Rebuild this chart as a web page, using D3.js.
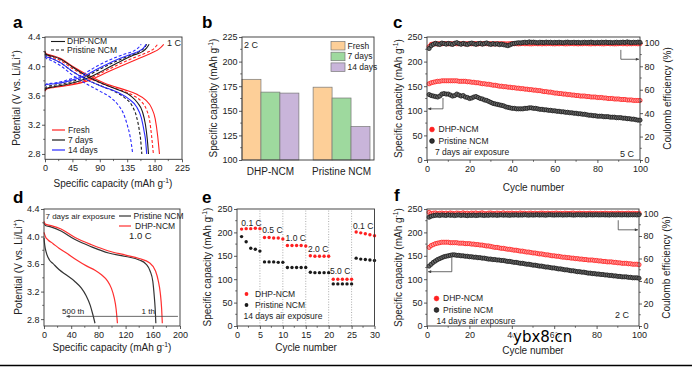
<!DOCTYPE html>
<html><head><meta charset="utf-8">
<script src="https://cdn.jsdelivr.net/npm/d3@7"></script>
<style>
body{margin:0;background:#fff;}
svg{display:block;font-family:"Liberation Sans",Arial,sans-serif;}
</style></head><body>
<svg id="chart" width="692" height="367"></svg>
<script>
// ================= DATA =================
// Panel a : charge/discharge at 1 C  [capacity, potential]
const aXTicks=[0,45,90,135,180,225];
const aYTicks=[2.8,3.2,3.6,4.0,4.4];
const aChgFreshDHP=[[0,3.66],[3,3.69],[15,3.71],[40,3.74],[70,3.80],[100,3.91],[130,4.02],[155,4.11],[175,4.18],[188,4.24],[195,4.30]];
const aChgFreshPri=[[0,3.67],[3,3.70],[15,3.72],[40,3.75],[70,3.82],[100,3.94],[125,4.04],[150,4.13],[168,4.19],[180,4.25],[185,4.30]];
const aChg7DHP=[[0,3.67],[3,3.70],[15,3.72],[40,3.76],[70,3.84],[95,3.94],[120,4.05],[145,4.15],[160,4.20],[167,4.25],[171,4.30]];
const aChg7Pri=[[0,3.69],[3,3.72],[15,3.74],[40,3.78],[65,3.85],[90,3.96],[115,4.06],[140,4.15],[155,4.20],[163,4.25],[167,4.30]];
const aChg14DHP=[[0,3.73],[3,3.75],[15,3.76],[40,3.80],[65,3.87],[90,3.98],[115,4.08],[140,4.16],[155,4.21],[162,4.25],[166,4.30]];
const aChg14Pri=[[0,3.74],[3,3.76],[15,3.77],[40,3.82],[60,3.88],[85,4.00],[110,4.10],[132,4.17],[146,4.21],[153,4.25],[158,4.30]];
const aDisFreshDHP=[[0,4.21],[2,4.17],[10,4.15],[25,4.11],[45,4.00],[75,3.86],[100,3.76],[130,3.68],[150,3.62],[165,3.54],[175,3.43],[181,3.28],[185,3.05],[188,2.80]];
const aDisFreshPri=[[0,4.19],[2,4.16],[10,4.13],[25,4.08],[45,3.97],[75,3.83],[100,3.74],[125,3.67],[145,3.60],[158,3.52],[167,3.40],[172,3.25],[175,3.05],[178,2.80]];
const aDis7DHP=[[0,4.20],[2,4.16],[10,4.14],[25,4.10],[45,3.99],[70,3.86],[95,3.76],[120,3.68],[140,3.60],[152,3.50],[160,3.38],[165,3.20],[168,3.00],[170,2.80]];
const aDis7Pri=[[0,4.17],[2,4.14],[10,4.11],[25,4.05],[45,3.93],[70,3.81],[95,3.72],[115,3.65],[132,3.56],[143,3.46],[150,3.32],[155,3.12],[157,3.00],[159,2.80]];
const aDis14DHP=[[0,4.15],[2,4.13],[10,4.11],[25,4.05],[45,3.93],[70,3.81],[95,3.72],[120,3.64],[138,3.55],[150,3.45],[158,3.30],[163,3.10],[165,3.00],[167,2.80]];
const aDis14Pri=[[0,4.13],[2,4.11],[10,4.08],[25,4.01],[45,3.88],[70,3.75],[90,3.66],[108,3.57],[121,3.46],[129,3.35],[135,3.20],[140,3.03],[142,2.93],[144,2.80]];

// Panel b : 2 C capacity bars
const bCategories=["DHP-NCM","Pristine NCM"];
const bSeries=["Fresh","7 days","14 days"];
const bFresh=[182,174];
const b7days=[169,163];
const b14days=[168,134];
const bYTicks=[100,125,150,175,200,225];

// Panel c : 5 C cycling, 7 days air exposure
const cycTicks=[0,20,40,60,80,100];
const capTicks=[0,50,100,150,200,250];
const ceTicks=[0,20,40,60,80,100];
const cCapDHP=[155,157,158,159,160,160,161,161,161,161,161,161,161,161,160,160,160,160,159,159,
158,158,157,157,156,155,155,154,154,153,152,152,151,150,150,149,149,148,148,147,
147,146,146,145,145,144,144,143,143,142,142,141,141,140,139,139,138,138,137,136,
136,135,135,134,134,133,133,132,132,131,131,130,130,130,129,129,128,128,128,127,
127,127,126,126,125,125,125,124,124,124,123,123,123,122,122,122,121,121,121,121];
const cCapPri=[133,131,130,129,128,130,134,135,134,134,132,130,131,134,132,130,131,128,127,125,
126,128,129,127,125,124,122,121,119,117,115,114,113,112,111,110,108,107,106,105,
105,104,104,104,104,105,105,106,106,105,105,104,103,103,102,102,101,101,100,100,
99,99,98,98,97,97,96,96,95,95,94,94,93,93,92,91,91,90,90,89,
89,89,88,88,88,87,87,87,86,86,86,85,85,84,84,83,83,82,81,81];
const cCeDHP=[96.8,98.7,99.0,99.2,99.1,99.3,99.2,99.4,99.3,99.2,99.3,99.1,99.4,99.2,99.3,99.2,99.4,99.1,99.3,99.2,
99.2,99.4,99.3,99.1,99.3,99.2,99.4,99.3,99.2,99.3,99.1,99.3,99.2,99.4,99.2,99.3,99.1,99.2,99.3,99.4,
99.2,99.3,99.1,99.3,99.4,99.2,99.3,99.2,99.1,99.3,99.4,99.2,99.3,99.1,99.3,99.2,99.4,99.3,99.2,99.1,
99.3,99.2,99.4,99.3,99.1,99.2,99.3,99.4,99.2,99.3,99.1,99.3,99.2,99.4,99.3,99.2,99.1,99.3,99.2,99.4,
99.3,99.2,99.1,99.3,99.4,99.2,99.3,99.1,99.2,99.3,99.4,99.2,99.3,99.1,99.3,99.2,99.4,99.3,99.2,99.3];
const cCePri=[95.2,97.6,98.8,99.6,99.0,98.6,99.8,99.4,98.9,99.5,99.1,98.7,99.6,100.2,99.3,98.8,99.5,99.0,98.6,99.4,
99.8,99.2,98.7,99.3,99.6,98.9,99.4,99.9,99.1,98.7,99.3,98.8,99.2,98.5,98.9,98.4,98.0,97.6,98.3,99.2,
99.5,99.8,100.1,99.9,100.3,100.5,100.2,100.8,100.4,100.6,100.3,100.1,100.5,100.4,100.2,100.6,100.3,100.5,100.1,100.4,
100.2,100.5,100.3,100.1,100.4,100.6,100.2,100.3,100.5,100.2,100.4,100.1,100.3,100.5,100.2,100.4,100.6,100.3,100.1,100.4,
100.2,100.5,100.3,100.6,100.2,100.4,100.1,100.3,100.5,100.2,100.4,100.6,100.3,100.8,100.4,100.2,100.5,100.3,100.6,100.4];

// Panel d : discharge 1st vs 500th, 1.0 C   [capacity, potential]
const dXTicks=[0,40,80,120,160,200];
const dYTicks=[2.8,3.2,3.6,4.0,4.4];
const dPri1=[[0,4.20],[2,4.16],[10,4.14],[25,4.08],[45,3.96],[70,3.85],[95,3.76],[120,3.71],[140,3.66],[150,3.60],[156,3.50],[160,3.35],[162,3.15],[163.5,2.95],[164.5,2.74]];
const dDHP1=[[0,4.22],[2,4.18],[10,4.16],[25,4.11],[45,3.99],[70,3.88],[95,3.79],[120,3.73],[140,3.68],[155,3.62],[164,3.50],[168,3.36],[171,3.18],[173,2.95],[174,2.74]];
const dPri500=[[0,3.98],[1,3.88],[3,3.78],[8,3.66],[13,3.61],[22,3.52],[33,3.44],[45,3.35],[55,3.25],[62,3.14],[68,3.00],[72,2.86],[75,2.74]];
const dDHP500=[[0,4.06],[2,4.00],[6,3.95],[13,3.90],[22,3.83],[33,3.76],[48,3.66],[63,3.57],[75,3.51],[85,3.44],[93,3.36],[99,3.25],[103,3.12],[106,2.95],[108,2.74]];

// Panel e : rate performance, 14 days air exposure
const eXTicks=[0,5,10,15,20,25,30];
const eRates=["0.1 C","0.5 C","1.0 C","2.0 C","5.0 C","0.1 C"];
const eDHP=[207,208,208,209,208,189,189,188,188,186,172,172,172,172,171,150,149,149,149,149,100,100,100,100,100,201,199,197,195,193];
const ePri=[191,180,166,164,160,137,137,137,136,136,125,125,125,125,125,115,114,114,114,114,90,90,90,90,90,145,143,142,141,140];

// Panel f : 2 C cycling, 14 days air exposure
const fCapDHP=[168,172,174,176,177,178,179,179,179,179,178,178,178,178,177,177,177,176,176,176,
175,175,174,174,173,173,172,171,171,170,169,168,168,167,166,166,165,164,164,163,
162,162,161,160,160,159,158,158,157,156,156,155,154,154,153,152,152,151,150,150,
149,149,148,147,147,146,146,145,145,144,144,143,143,142,142,141,141,141,140,140,
139,139,138,138,137,137,137,136,136,135,135,134,134,134,133,133,132,132,132,131];
const fCapPri=[128,132,136,139,142,144,146,148,149,150,151,152,152,151,151,150,150,149,149,148,
148,147,147,146,146,145,145,144,143,143,142,142,141,141,140,140,139,138,138,137,
136,136,135,134,134,133,132,132,131,130,130,129,128,128,127,126,126,125,124,124,
123,122,122,121,120,120,119,118,118,117,116,116,115,115,114,113,113,112,112,111,
111,110,110,109,109,108,108,107,107,106,106,105,105,105,104,104,103,103,103,102];
const fCeDHP=[101.0,99.9,100.3,100.5,99.8,100.2,100.4,100.0,100.3,99.9,100.5,100.1,99.8,100.4,100.2,99.9,100.6,100.0,100.3,99.8,
100.4,100.1,100.5,99.9,100.2,100.6,100.0,99.8,100.3,100.5,100.1,99.9,100.4,100.2,100.0,100.6,99.8,100.3,100.1,100.4,
100.0,100.2,99.9,100.5,100.1,100.3,99.8,100.2,100.4,100.0,100.3,99.9,100.1,100.4,100.2,100.0,100.3,99.9,100.2,100.1,
100.4,100.0,100.2,99.9,100.3,100.1,100.0,100.2,100.4,99.9,100.1,100.3,100.0,100.2,99.9,100.1,100.3,100.0,100.2,100.1,
99.9,100.2,100.0,100.3,100.1,99.9,100.2,100.0,100.1,100.3,100.0,100.2,99.9,100.1,100.3,100.0,100.2,100.1,99.9,100.2];
const fCePri=[96.7,97.6,98.1,98.4,98.6,98.2,98.7,98.5,98.3,98.8,98.4,98.6,98.2,98.5,98.7,98.3,98.6,98.4,98.1,98.5,
98.3,98.6,98.2,98.4,98.7,98.5,98.3,98.6,98.4,98.8,98.5,98.7,98.4,98.6,98.8,98.5,98.7,98.6,98.4,98.7,
98.6,98.8,98.5,98.7,98.6,98.9,98.7,98.5,98.8,98.6,98.7,98.9,98.6,98.8,98.7,98.5,98.8,98.9,98.7,98.6,
98.8,98.7,98.9,98.6,98.8,98.7,98.9,98.8,98.6,98.7,98.9,98.8,98.7,98.9,98.6,98.8,98.9,98.7,98.8,98.9,
98.7,98.8,98.9,98.7,98.8,98.6,98.9,98.8,98.7,98.9,98.8,98.7,98.9,98.8,98.7,98.9,98.8,98.9,98.7,99.0];

// ================= DRAWING =================
const svg=d3.select("#chart");
const AX="#333", TXT="#222";
const RED="#ff2020", BLUE="#2a2aff", BLK="#1a1a1a";
const TICK_FS=9, TITLE_FS=10, LEG_FS=8.5;

const defs=svg.append("defs");
defs.append("marker").attr("id","arrL").attr("viewBox","0 0 6 6").attr("refX",6).attr("refY",3)
  .attr("markerWidth",5).attr("markerHeight",4).attr("orient","auto")
  .append("path").attr("d","M0,0L6,3L0,6Z").attr("fill","#444");

function frame(g,x,y){
  const [x0,x1]=x.range(),[y0,y1]=y.range();
  g.append("rect").attr("x",x0).attr("y",y1).attr("width",x1-x0).attr("height",y0-y1)
   .attr("fill","none").attr("stroke",AX).attr("stroke-width",0.9);
}
function styleAxis(sel){
  sel.select(".domain").remove();
  sel.selectAll("line").attr("stroke",AX).attr("stroke-width",0.8);
  sel.selectAll("text").attr("font-size",TICK_FS).attr("fill",TXT).attr("font-family","Liberation Sans, Arial, sans-serif");
}
function minorTicks(g,scale,ticks,orient,pos){
  for(let i=0;i<ticks.length-1;i++){
    const v=(ticks[i]+ticks[i+1])/2, p=scale(v);
    if(orient==="b") g.append("line").attr("x1",p).attr("x2",p).attr("y1",pos).attr("y2",pos+1.8).attr("stroke",AX).attr("stroke-width",0.7);
    if(orient==="l") g.append("line").attr("y1",p).attr("y2",p).attr("x1",pos).attr("x2",pos-1.8).attr("stroke",AX).attr("stroke-width",0.7);
    if(orient==="r") g.append("line").attr("y1",p).attr("y2",p).attr("x1",pos).attr("x2",pos+1.8).attr("stroke",AX).attr("stroke-width",0.7);
  }
}
function bottomAxis(g,x,y,ticks,fmt){
  const yp=y.range()[0];
  g.append("g").attr("transform",`translate(0,${yp})`)
   .call(d3.axisBottom(x).tickValues(ticks).tickSize(3).tickPadding(2.5).tickFormat(fmt||d3.format("d"))).call(styleAxis);
  minorTicks(g,x,ticks,"b",yp);
}
function leftAxis(g,x,y,ticks,fmt){
  const xp=x.range()[0];
  g.append("g").attr("transform",`translate(${xp},0)`)
   .call(d3.axisLeft(y).tickValues(ticks).tickSize(3).tickPadding(1.5).tickFormat(fmt||d3.format("d"))).call(styleAxis);
  minorTicks(g,y,ticks,"l",xp);
}
function rightAxis(g,x,yR,ticks){
  const xp=x.range()[1];
  g.append("g").attr("transform",`translate(${xp},0)`)
   .call(d3.axisRight(yR).tickValues(ticks).tickSize(3).tickPadding(1.5).tickFormat(d3.format("d"))).call(styleAxis);
  minorTicks(g,yR,ticks,"r",xp);
}
// text with superscript part
function title(g,x,y,parts,rot,fs){
  fs=fs||TITLE_FS;
  const t=g.append("text").attr("font-size",fs).attr("fill",TXT).attr("text-anchor","middle")
    .attr("transform",`translate(${x},${y})${rot?" rotate(-90)":""}`).attr("dy","0.35em");
  let back=0;
  parts.forEach(p=>{
    if(typeof p==="string"){
      const s=t.append("tspan").text(p);
      if(back){ s.attr("dy",back); back=0; }
    } else {
      t.append("tspan").attr("font-size",fs*0.68).attr("dy",-fs*0.38).text(p.sup);
      back=fs*0.38;
    }
  });
  return t;
}
function label(g,x,y,txt,fs,anchor,weight){
  return g.append("text").attr("x",x).attr("y",y).attr("dy","0.35em").attr("font-size",fs||LEG_FS)
    .attr("fill",TXT).attr("text-anchor",anchor||"start").attr("font-weight",weight||"normal").text(txt);
}
function letter(x,y,t){
  svg.append("text").attr("x",x).attr("y",y).attr("font-size",17).attr("font-weight","bold").attr("fill","#000").text(t);
}
const capTitle=["Specific capacity (mAh g",{sup:"-1"},")"];

// ---------- Panel a ----------
{
  const g=svg.append("g");
  const x=d3.scaleLinear().domain([0,225]).range([45,182]);
  const y=d3.scaleLinear().domain([2.727,4.4]).range([159.3,37]);
  const line=d3.line().x(d=>x(d[0])).y(d=>y(d[1])).curve(d3.curveMonotoneX);
  const curves=[
    [aChgFreshDHP,RED,false],[aChgFreshPri,RED,true],[aDisFreshDHP,RED,false],[aDisFreshPri,RED,true],
    [aChg7DHP,BLK,false],[aChg7Pri,BLK,true],[aDis7DHP,BLK,false],[aDis7Pri,BLK,true],
    [aChg14DHP,BLUE,false],[aChg14Pri,BLUE,true],[aDis14DHP,BLUE,false],[aDis14Pri,BLUE,true]];
  curves.forEach(([d,c,dash])=>{
    g.append("path").attr("d",line(d)).attr("fill","none").attr("stroke",c).attr("stroke-width",1.1)
     .attr("stroke-dasharray",dash?"3,2":null);
  });
  frame(g,x,y);
  bottomAxis(g,x,y,aXTicks);
  leftAxis(g,x,y,aYTicks,d3.format(".1f"));
  [["DHP-NCM",false,41.5],["Pristine NCM",true,50]].forEach(([t,dash,yy])=>{
    g.append("line").attr("x1",51).attr("x2",65).attr("y1",yy).attr("y2",yy).attr("stroke",BLK).attr("stroke-width",1.1).attr("stroke-dasharray",dash?"3,2":null);
    label(g,67,yy,t);
  });
  [["Fresh",RED,130],["7 days",BLK,140],["14 days",BLUE,150]].forEach(([t,c,yy])=>{
    g.append("line").attr("x1",52).attr("x2",65).attr("y1",yy).attr("y2",yy).attr("stroke",c).attr("stroke-width",1.2);
    label(g,68,yy,t);
  });
  label(g,167,43,"1 C",9);
  title(g,16,98,["Potential (V vs. Li/Li",{sup:"+"},")"],true);
  title(g,113,183,capTitle,false);
  letter(13,28,"a");
}

// ---------- Panel b ----------
{
  const g=svg.append("g");
  const x0=d3.scaleBand().domain(bCategories).range([242,370]).paddingInner(0.2).paddingOuter(0);
  const x1=d3.scaleBand().domain(bSeries).range([0,x0.bandwidth()]).padding(0);
  const y=d3.scaleLinear().domain([100,225]).range([160,37]);
  const xf=d3.scaleLinear().range([242,374]);
  const cols={"Fresh":"#fdcf98","7 days":"#9ed99e","14 days":"#c9b5da"};
  const vals={"Fresh":bFresh,"7 days":b7days,"14 days":b14days};
  bCategories.forEach((cat,i)=>{
    bSeries.forEach(s=>{
      const v=vals[s][i];
      g.append("rect").attr("x",x0(cat)+x1(s)).attr("width",x1.bandwidth()).attr("y",y(v)).attr("height",y(100)-y(v))
       .attr("fill",cols[s]).attr("stroke","#777").attr("stroke-width",0.7);
    });
  });
  frame(g,xf,y);
  g.append("g").attr("transform","translate(0,160)")
   .call(d3.axisBottom(x0).tickSize(0).tickPadding(8)).call(styleAxis)
   .selectAll("text").attr("font-size",TITLE_FS);
  leftAxis(g,xf,y,bYTicks);
  bSeries.forEach((s,i)=>{
    const yy=41.5+i*10.7;
    g.append("rect").attr("x",331).attr("y",yy).attr("width",14).attr("height",8.5).attr("fill",cols[s]).attr("stroke","#777").attr("stroke-width",0.7);
    label(g,347.5,yy+4.3,s);
  });
  label(g,244,45,"2 C",9);
  title(g,213,98,capTitle,true);
  letter(202,28,"b");
}

// helper for cycling panels
function cyclingPanel(opts){
  const g=svg.append("g");
  const x=d3.scaleLinear().domain([0,100]).range(opts.xr);
  const y=d3.scaleLinear().domain([0,250]).range(opts.yr);
  const yR=d3.scaleLinear().domain([0,opts.ceMax]).range(opts.yr);
  const cyc=d3.range(1,101);
  const dot=(data,scale,stroke,fill)=>{
    g.append("g").selectAll("circle").data(data).join("circle")
     .attr("cx",(d,i)=>x(cyc[i])).attr("cy",d=>scale(d)).attr("r",2.1)
     .attr("fill",fill).attr("stroke",stroke).attr("stroke-width",0.8);
  };
  dot(opts.capDHP,y,RED,"#ff9a9a");
  dot(opts.capPri,y,BLK,"#666");
  dot(opts.ceDHP,yR,RED,"#ff9a9a");
  dot(opts.cePri,yR,BLK,"#666");
  frame(g,x,y);
  bottomAxis(g,x,y,cycTicks);
  leftAxis(g,x,y,capTicks);
  rightAxis(g,x,yR,ceTicks);
  const L=opts.leftArrow, R=opts.rightArrow;
  g.append("path").attr("d",`M${x(L[0])},${y(L[1])}V${y(L[2])}H${x(0)+1}`).attr("fill","none").attr("stroke","#444").attr("stroke-width",0.8).attr("marker-end","url(#arrL)");
  g.append("path").attr("d",`M${x(R[0])},${yR(R[1])}V${yR(R[2])}H${x(100)-1}`).attr("fill","none").attr("stroke","#444").attr("stroke-width",0.8).attr("marker-end","url(#arrL)");
  const lx=opts.legX, ly=opts.legY;
  g.append("circle").attr("cx",lx).attr("cy",ly).attr("r",2.4).attr("fill",RED).attr("stroke",RED).attr("stroke-width",0.6);
  label(g,lx+6.5,ly,"DHP-NCM");
  g.append("circle").attr("cx",lx).attr("cy",ly+11.5).attr("r",2.4).attr("fill","#333").attr("stroke","#000").attr("stroke-width",0.6);
  label(g,lx+6.5,ly+11.5,"Pristine NCM");
  label(g,lx+opts.expDx,ly+23,opts.exposure);
  label(g,opts.rateX,opts.rateY,opts.rate,9);
  const ym=(opts.yr[0]+opts.yr[1])/2;
  title(g,opts.xr[0]-29,ym,capTitle,true);
  title(g,opts.xr[1]+27,ym,["Coulomb efficiency (%)"],true);
  title(g,(opts.xr[0]+opts.xr[1])/2,opts.xTitleY,["Cycle number"],false);
  return {x,y,yR,g};
}

// ---------- Panel c ----------
cyclingPanel({xr:[427,640],yr:[160,37],ceMax:105,capDHP:cCapDHP,capPri:cCapPri,ceDHP:cCeDHP,cePri:cCePri,
  leftArrow:[7.5,126,104],rightArrow:[91,94,86],legX:432,legY:129.5,expDx:3,exposure:"7 days air exposure",
  rate:"5 C",rateX:620,rateY:154,xTitleY:187});
letter(393,28,"c");

// ---------- Panel d ----------
{
  const g=svg.append("g");
  const x=d3.scaleLinear().domain([0,200]).range([44,180]);
  const y=d3.scaleLinear().domain([2.7,4.4]).range([326,209]);
  const line=d3.line().x(d=>x(d[0])).y(d=>y(d[1])).curve(d3.curveMonotoneX);
  [[dPri500,"#333"],[dDHP500,"#ff3030"],[dPri1,"#333"],[dDHP1,"#ff3030"]].forEach(([d,c])=>{
    g.append("path").attr("d",line(d)).attr("fill","none").attr("stroke",c).attr("stroke-width",1.2);
  });
  frame(g,x,y);
  bottomAxis(g,x,y,dXTicks);
  leftAxis(g,x,y,dYTicks,d3.format(".1f"));
  g.append("line").attr("x1",x(197)).attr("x2",x(33)).attr("y1",y(2.84)).attr("y2",y(2.84))
   .attr("stroke","#444").attr("stroke-width",0.8).attr("marker-end","url(#arrL)");
  label(g,62,y(2.84)-5,"500 th",8);
  label(g,141.5,y(2.84)-5,"1 th",8);
  label(g,45.5,216,"7 days air exposure",8);
  g.append("line").attr("x1",119).attr("x2",131).attr("y1",216).attr("y2",216).attr("stroke","#333").attr("stroke-width",1.2);
  label(g,133.5,216,"Pristine NCM");
  g.append("line").attr("x1",119).attr("x2",131).attr("y1",226).attr("y2",226).attr("stroke","#ff3030").attr("stroke-width",1.2);
  label(g,135,226,"DHP-NCM");
  label(g,129,235.5,"1.0 C",9.5);
  title(g,18,267,["Potential (V vs. Li/Li",{sup:"+"},")"],true);
  title(g,112,347,capTitle,false);
  letter(13,203,"d");
}

// ---------- Panel e ----------
{
  const g=svg.append("g");
  const x=d3.scaleLinear().domain([0,30]).range([237,374.5]);
  const y=d3.scaleLinear().domain([0,250]).range([326,209]);
  [5,10,15,20,25].forEach(v=>{
    g.append("line").attr("x1",x(v)).attr("x2",x(v)).attr("y1",y(0)).attr("y2",y(250)).attr("stroke","#888").attr("stroke-width",0.7).attr("stroke-dasharray","1,1.6");
  });
  const cyc=d3.range(1,31);
  g.append("g").selectAll("circle").data(eDHP).join("circle").attr("cx",(d,i)=>x(cyc[i])).attr("cy",d=>y(d)).attr("r",1.7).attr("fill",RED);
  g.append("g").selectAll("circle").data(ePri).join("circle").attr("cx",(d,i)=>x(cyc[i])).attr("cy",d=>y(d)).attr("r",1.7).attr("fill",BLK);
  frame(g,x,y);
  bottomAxis(g,x,y,eXTicks);
  leftAxis(g,x,y,capTicks);
  const rl=[[0.95,220.5],[5.5,205],[10.6,187],[15.5,164],[20.3,118],[25.3,214]];
  eRates.forEach((t,i)=>label(g,x(rl[i][0]),y(rl[i][1]),t,8.5));
  g.append("circle").attr("cx",246.5).attr("cy",294).attr("r",1.9).attr("fill",RED);
  label(g,255,294,"DHP-NCM");
  g.append("circle").attr("cx",246.5).attr("cy",305).attr("r",1.9).attr("fill",BLK);
  label(g,255,305,"Pristine NCM");
  label(g,243.5,316.5,"14 days air exposure");
  title(g,207,267,capTitle,true);
  title(g,306,347,["Cycle number"],false);
  letter(202,203,"e");
}

// ---------- Panel f ----------
cyclingPanel({xr:[427,639],yr:[326,209],ceMax:104,capDHP:fCapDHP,capPri:fCapPri,ceDHP:fCeDHP,cePri:fCePri,
  leftArrow:[11.7,150,116],rightArrow:[90.2,94,85.5],legX:436.5,legY:298.5,expDx:0,exposure:"14 days air exposure",
  rate:"2 C",rateX:615,rateY:315,xTitleY:350});
letter(394,201,"f");

// bottom rule and watermark
svg.append("line").attr("x1",0).attr("x2",692).attr("y1",365.5).attr("y2",365.5).attr("stroke","#000").attr("stroke-width",1.5);
svg.append("text").attr("x",513).attr("y",342).attr("font-family","DejaVu Sans, sans-serif").attr("font-size",15)
  .attr("fill","#000").attr("stroke","#fff").attr("stroke-width",2.5).attr("paint-order","stroke").text("ybx8.cn");
</script></body></html>
